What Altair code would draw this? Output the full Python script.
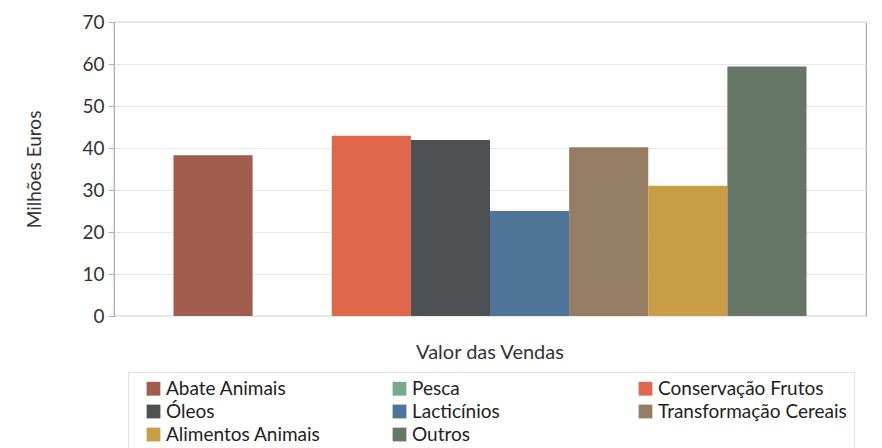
import altair as alt
import pandas as pd

series = ["Abate Animais", "Pesca", "Conservação Frutos", "Óleos", "Lacticínios",
          "Transformação Cereais", "Alimentos Animais", "Outros"]
values = [38.3, 0, 42.9, 41.9, 25.0, 40.2, 31.0, 59.4]
colors = ["#A15C4E", "#79A98A", "#DF674B", "#4E5054", "#4F7499", "#957D63", "#C99C46", "#667767"]
group = "Valor das Vendas"

df = pd.DataFrame({"grupo": [group] * len(series), "serie": series, "valor": values})

FONT = "Lato"

chart = alt.Chart(df).mark_bar().encode(
    x=alt.X("grupo:N", title=None,
            scale=alt.Scale(paddingInner=0, paddingOuter=0.094),
            axis=alt.Axis(labelAngle=0, labelFontSize=20, labelPadding=26, ticks=False,
                          labelColor="#333333", labelFont=FONT, domain=False)),
    xOffset=alt.XOffset("serie:N", sort=series, scale=alt.Scale(paddingInner=0, paddingOuter=0)),
    y=alt.Y("valor:Q", title="Milhões Euros",
            scale=alt.Scale(domain=[0, 70], nice=False),
            axis=alt.Axis(values=[0, 10, 20, 30, 40, 50, 60, 70], labelFontSize=19,
                          labelColor="#333333", labelFont=FONT, titleFont=FONT,
                          titleFontSize=19, titleFontWeight="normal", titleColor="#333333",
                          titlePadding=37, tickSize=6, tickColor="#B0B0B0", domain=False,
                          gridColor="#E8E8E8", labelPadding=4)),
    color=alt.Color("serie:N", sort=series,
                    scale=alt.Scale(domain=series, range=colors),
                    legend=alt.Legend(title=None, orient="none", legendX=14, legendY=350,
                                      direction="horizontal",
                                      columns=3, gridAlign="all", columnPadding=26,
                                      symbolType="square", symbolSize=190, symbolStrokeWidth=0,
                                      symbolOffset=9, labelFontSize=19, labelFont=FONT,
                                      labelColor="#222222", labelOffset=3, rowPadding=3,
                                      padding=7, strokeColor="#E0E0E0", fillColor="white",
                                      labelLimit=400)),
).properties(
    width=752, height=294,
    autosize=alt.AutoSizeParams(type="none"),
    padding={"left": 106, "top": 14, "right": 8, "bottom": 132},
).configure_view(stroke="#A8A8A8", strokeWidth=1.2).configure_axis(gridWidth=1)

chart.save("out.html", embed_options={"renderer": "svg", "actions": False})
